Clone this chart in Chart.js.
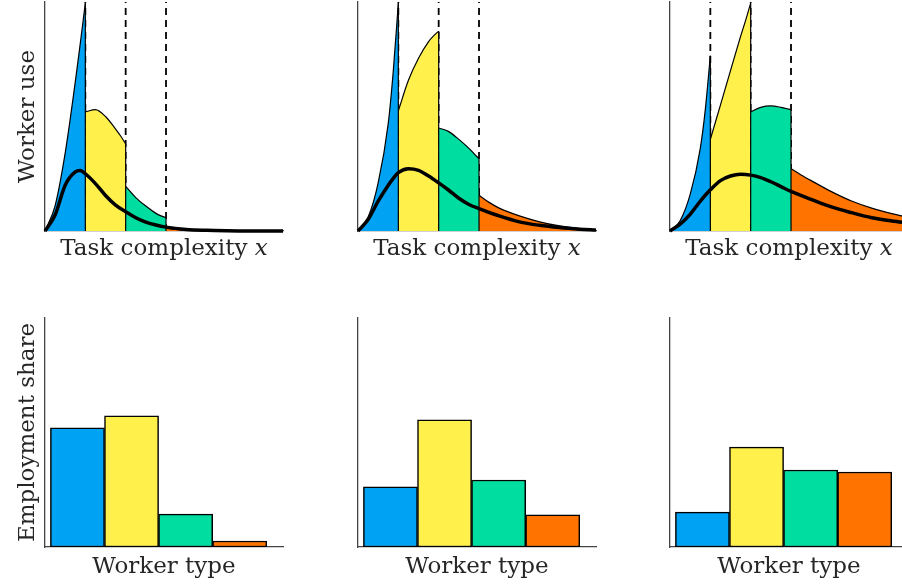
<!DOCTYPE html>
<html>
<head>
<meta charset="utf-8">
<script src="https://cdn.jsdelivr.net/npm/chart.js@4.4.1/dist/chart.umd.min.js"></script>
<style>
  body { margin: 0; background: #fff; }
  #wrap { position: relative; width: 902px; height: 587px; overflow: hidden; }
  canvas { position: absolute; }
</style>
</head>
<body>
<div id="wrap">
  <canvas id="useA" width="300" height="280" style="left:0;top:0"></canvas>
  <canvas id="useB" width="300" height="280" style="left:313px;top:0"></canvas>
  <canvas id="useC" width="300" height="280" style="left:625px;top:0"></canvas>
  <canvas id="shareA" width="300" height="297" style="left:0;top:290px"></canvas>
  <canvas id="shareB" width="300" height="297" style="left:313px;top:290px"></canvas>
  <canvas id="shareC" width="300" height="297" style="left:625px;top:290px"></canvas>
</div>
<script>
// worker colours: low -> high skill
const workerColors = ['#00A2F3', '#FFF04C', '#00DDA0', '#FF7300'];
const thresholds = [1, 2, 3];

// x positions of samples
const unitX = [0, 0.25, 0.5, 0.75, 0.875, 1];          // offsets inside one segment
const tailX = [3, 3.25, 3.5, 4, 4.5, 5, 5.5, 5.9];      // last (orange) segment
const densityX = [0, 0.25, 0.5, 0.75, 0.875, 1, 1.25, 1.5, 1.75, 2, 2.25, 2.5, 2.75, 3, 3.5, 4, 4.5, 5, 5.5, 5.9];

// panel A (left)
const blueA = [0, 0.11, 0.34, 0.65, 0.82, 0.995];
const yellowA = [0.52, 0.53, 0.50, 0.445, 0.415, 0.38];
const greenA = [0.195, 0.146, 0.109, 0.077, 0.066, 0.058];
const orangeA = [0.012, 0.007, 0.004, 0.0015, 0.0005, 0, 0, 0];
const densityA = [0, 0.07, 0.2, 0.258, 0.264, 0.25, 0.207, 0.155, 0.113, 0.084, 0.058, 0.039, 0.026, 0.017, 0.007, 0.003, 0.001, 0, 0, 0];

// panel B (middle)
const blueB = [0, 0.06, 0.21, 0.47, 0.70, 0.995];
const yellowB = [0.525, 0.658, 0.754, 0.827, 0.852, 0.873];
const greenB = [0.45, 0.434, 0.40, 0.361, 0.338, 0.316];
const orangeB = [0.156, 0.125, 0.10, 0.066, 0.04, 0.022, 0.01, 0.005];
const densityB = [0, 0.05, 0.13, 0.2, 0.23, 0.255, 0.272, 0.265, 0.24, 0.21, 0.178, 0.143, 0.116, 0.098, 0.066, 0.04, 0.025, 0.015, 0.008, 0.004];

// panel C (right)
const blueC = [0, 0.045, 0.16, 0.36, 0.53, 0.765];
const yellowC = [0.40, 0.55, 0.70, 0.85, 0.92, 0.995];
const greenC = [0.52, 0.54, 0.546, 0.54, 0.535, 0.53];
const orangeC = [0.272, 0.245, 0.22, 0.172, 0.131, 0.1, 0.076, 0.06];
const densityC = [0, 0.03, 0.073, 0.13, 0.156, 0.18, 0.22, 0.24, 0.248, 0.244, 0.233, 0.215, 0.194, 0.173, 0.138, 0.105, 0.08, 0.058, 0.044, 0.035];

// employment shares per worker type
const workerTypePos = [0.5, 1.5, 2.5, 3.5];
const shareA = [0.416, 0.458, 0.115, 0.021];
const shareB = [0.21, 0.444, 0.234, 0.112];
const shareC = [0.122, 0.349, 0.269, 0.262];

const font = '"DejaVu Serif", serif';
const fontSize = 23;

// axis titles, with an italic part
const axisLabels = {
  id: 'axisLabels',
  afterDraw(chart, args, opts) {
    const { ctx, chartArea: a } = chart;
    const reg = fontSize + 'px ' + font, ital = 'italic ' + fontSize + 'px ' + font;
    ctx.save();
    ctx.fillStyle = '#262626';
    ctx.textBaseline = 'alphabetic';
    ctx.font = reg;
    const w1 = ctx.measureText(opts.x).width;
    ctx.font = ital;
    const w2 = opts.xItalic ? ctx.measureText(opts.xItalic).width : 0;
    const x0 = (a.left + a.right) / 2 - (w1 + w2) / 2;
    const yb = a.bottom + opts.gap;
    ctx.font = reg;
    ctx.fillText(opts.x, x0, yb);
    if (opts.xItalic) {
      ctx.font = ital;
      ctx.fillText(opts.xItalic, x0 + w1, yb);
    }
    if (opts.y) {
      ctx.font = reg;
      ctx.translate(a.left - 11, (a.top + a.bottom) / 2);
      ctx.rotate(-Math.PI / 2);
      ctx.textAlign = 'center';
      ctx.fillText(opts.y, 0, 0);
    }
    ctx.restore();
  }
};

function baseScale(min, max, horizontal) {
  return {
    type: 'linear', min, max, offset: false,
    ticks: { display: false },
    grid: { display: false, offset: false },
    border: { display: true, color: '#444', width: 1.3 },
    afterFit(s) { if (horizontal) s.height = 0; else s.width = 0; }
  };
}

function pts(xs, ys, shift) {
  return xs.map((x, i) => ({ x: x + (shift || 0), y: ys[i] }));
}

function useChart(id, segs, orange, density, yTitle) {
  const datasets = [];
  datasets.push({
    data: pts(densityX, density), borderColor: '#000', borderWidth: 3.5,
    cubicInterpolationMode: 'monotone', fill: false, order: 0,
    clip: { left: 5, top: 5, right: 0, bottom: 5 }
  });
  const segData = segs.map((ys, i) => pts(unitX, ys, i)).concat([pts(tailX, orange)]);
  segData.forEach((d, i) => {
    datasets.push({
      data: d, borderColor: '#000', borderWidth: 1.2,
      backgroundColor: workerColors[i], fill: 'origin',
      cubicInterpolationMode: 'monotone', order: 2
    });
  });
  thresholds.forEach((t, i) => {
    const left = segData[i][segData[i].length - 1].y;
    const right = segData[i + 1][0].y;
    datasets.push({
      data: [{ x: t, y: 0 }, { x: t, y: Math.max(left, right) }],
      borderColor: '#000', borderWidth: 1.2, fill: false, order: 1
    });
    datasets.push({
      data: [{ x: t, y: 0 }, { x: t, y: 1 }],
      borderColor: '#000', borderWidth: 1.8, borderDash: [7, 5], fill: false, order: 3
    });
  });
  new Chart(document.getElementById(id), {
    type: 'line',
    data: { datasets },
    options: {
      responsive: false, animation: false, events: [],
      layout: { padding: { left: 45, top: 2, right: 17, bottom: 49 } },
      elements: { point: { radius: 0 } },
      scales: { x: baseScale(0, 5.9, true), y: baseScale(0, 1, false) },
      plugins: {
        legend: { display: false }, tooltip: { enabled: false },
        axisLabels: { x: 'Task complexity ', xItalic: 'x', y: yTitle, gap: 24 }
      }
    },
    plugins: [axisLabels]
  });
}

function shareChart(id, shares, yTitle) {
  const xScale = baseScale(-0.1, 4.3, true);
  xScale.afterBuildTicks = s => { s.ticks = workerTypePos.map(v => ({ value: v })); };
  new Chart(document.getElementById(id), {
    type: 'bar',
    data: {
      datasets: [{
        data: pts(workerTypePos, shares),
        backgroundColor: workerColors, borderColor: '#000', borderWidth: 1.5,
        borderSkipped: false, barPercentage: 1, categoryPercentage: 1
      }]
    },
    options: {
      responsive: false, animation: false, events: [],
      layout: { padding: { left: 45, top: 28, right: 17, bottom: 40 } },
      scales: { x: xScale, y: baseScale(0, 0.8, false) },
      plugins: {
        legend: { display: false }, tooltip: { enabled: false },
        axisLabels: { x: 'Worker type', y: yTitle, gap: 26 }
      }
    },
    plugins: [axisLabels]
  });
}

useChart('useA', [blueA, yellowA, greenA], orangeA, densityA, 'Worker use');
useChart('useB', [blueB, yellowB, greenB], orangeB, densityB, null);
useChart('useC', [blueC, yellowC, greenC], orangeC, densityC, null);
shareChart('shareA', shareA, 'Employment share');
shareChart('shareB', shareB, null);
shareChart('shareC', shareC, null);
</script>
</body>
</html>
